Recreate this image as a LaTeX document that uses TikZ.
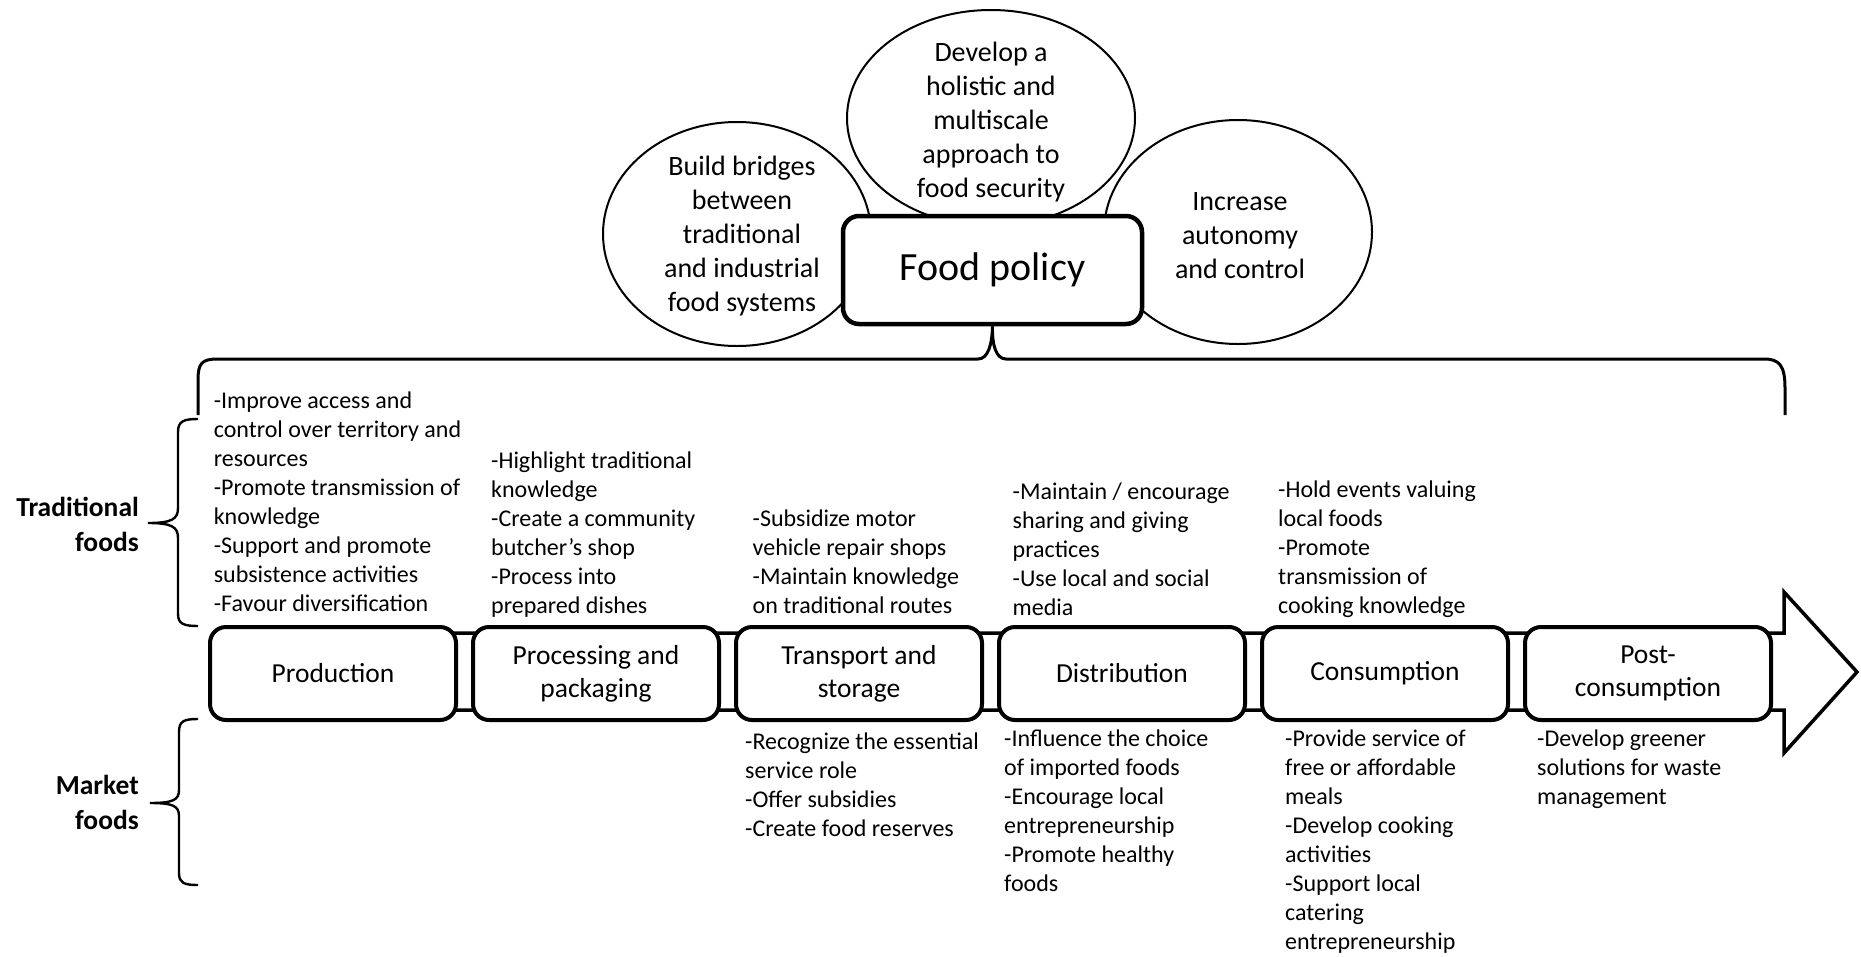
\documentclass[tikz,border=0pt]{standalone}
\usepackage{fontspec}
\setmainfont{Carlito}
\usetikzlibrary{shapes.geometric}
\begin{document}
\begin{tikzpicture}[x=1pt,y=-1pt,
  bubble/.style={draw, ellipse, fill=white, line width=2pt, inner sep=0pt},
  bubbletext/.style={align=center, font=\fontsize{28}{34}\selectfont, inner sep=0pt},
  policy/.style={draw, rounded corners=16pt, fill=white, line width=4.5pt, minimum width=299pt, minimum height=108pt, inner sep=0pt, font=\fontsize{40}{48}\selectfont},
  stage/.style={draw, rounded corners=16pt, fill=white, line width=4pt, minimum width=246pt, minimum height=93pt, align=center, inner sep=0pt, font=\fontsize{27.5}{33}\selectfont},
  acts/.style={align=left, anchor=base west, inner sep=0pt, font=\fontsize{24}{29}\selectfont},
  side/.style={align=right, anchor=east, inner sep=0pt, font=\bfseries\fontsize{27.5}{35}\selectfont},
  bracel/.style={line width=2.4pt},
  flow/.style={line width=3.5pt, fill=white, line join=miter},
]
\useasboundingbox (0,0) rectangle (1861,956);

% goal bubbles
\node[bubble, minimum width=268pt, minimum height=224pt] (e1) at (737,234) {};
\node[bubble, minimum width=288pt, minimum height=216pt] (e2) at (991,118) {};
\node[bubble, minimum width=268pt, minimum height=224pt] (e3) at (1238,232) {};
\node[bubbletext] (t1) at (742,236) {Build bridges\\between\\traditional\\and industrial\\food systems};
\node[bubbletext] (t2) at (991,122) {Develop a\\holistic and\\multiscale\\approach to\\food security};
\node[bubbletext] (t3) at (1240,236) {Increase\\autonomy\\and control};

% policy box
\node[policy] (fp) at (992.5,270) {Food policy};

% top brace
\coordinate (bl) at (198,415);
\coordinate (br) at (1785,415);
\draw[line width=3pt] (bl) -- (198,380) .. controls (198,363) and (202,359) .. (218,359)
  -- (978,359) .. controls (988,359) and (992,345) .. (fp.south)
  .. controls (992,345) and (996,359) .. (1006,359)
  -- (1764,359) .. controls (1779,359) and (1785,365) .. (1785,388) -- (br);

% flow arrow
\draw[flow] (215,633) -- (1784,633) -- (1784,592) -- (1857,672) -- (1784,753) -- (1784,710) -- (215,710) -- cycle;

% stages
\node[stage] (s1) at (333,673.5) {Production};
\node[stage] (s2) at (596,673.5) {Processing and\\packaging};
\node[stage] (s3) at (859,673.5) {Transport and\\storage};
\node[stage] (s4) at (1122,673.5) {Distribution};
\node[stage] (s5) at (1385,673.5) {Consumption};
\node[stage] (s6) at (1648,673.5) {Post-\\consumption};

% side labels and braces
\node[side] (trad) at (139,524) {Traditional\\foods};
\node[side] (mark) at (139,802) {Market\\foods};
\draw[bracel] (198,419) .. controls (184,419) and (178,421) .. (178,432) -- (178,508)
  .. controls (178,519) and (172,523) .. (148,523)
  .. controls (172,523) and (178,527) .. (178,538) -- (178,614)
  .. controls (178,624) and (184,626) .. (198,626);
\draw[bracel] (198,719) .. controls (184,719) and (179,721) .. (179,732) -- (179,790)
  .. controls (179,800) and (173,803) .. (150,803)
  .. controls (173,803) and (179,806) .. (179,816) -- (179,873)
  .. controls (179,883) and (184,885) .. (198,885);

% actions: traditional foods (anchor = baseline of the last line)
\node[acts] (a1) at (213.6,611) {-Improve access and\\control over territory and\\resources\\-Promote transmission of\\knowledge\\-Support and promote\\subsistence activities\\-Favour diversification};
\node[acts] (a2) at (491,613.5) {-Highlight traditional\\knowledge\\-Create a community\\butcher’s shop\\-Process into\\prepared dishes};
\node[acts] (a3) at (752.5,613.5) {-Subsidize motor\\vehicle repair shops\\-Maintain knowledge\\on traditional routes};
\node[acts] (a4) at (1012.5,615) {-Maintain / encourage\\sharing and giving\\practices\\-Use local and social\\media};
\node[acts] (a5) at (1278,613.5) {-Hold events valuing\\local foods\\-Promote\\transmission of\\cooking knowledge};

% actions: market foods
\node[acts] (b3) at (745,836.5) {-Recognize the essential\\service role\\-Offer subsidies\\-Create food reserves};
\node[acts] (b4) at (1004,891) {-Influence the choice\\of imported foods\\-Encourage local\\entrepreneurship\\-Promote healthy\\foods};
\node[acts] (b5) at (1285,949) {-Provide service of\\free or affordable\\meals\\-Develop cooking\\activities\\-Support local\\catering\\entrepreneurship};
\node[acts] (b6) at (1537,804.5) {-Develop greener\\solutions for waste\\management};
\end{tikzpicture}
\end{document}
